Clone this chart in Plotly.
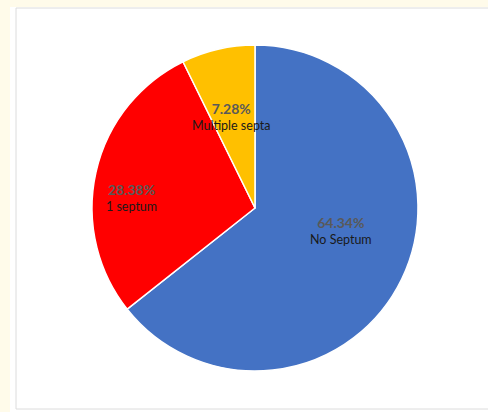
import plotly.graph_objects as go

# Data
categories = ["No Septum", "1 septum", "Multiple septa"]
percent_values = [64.34, 28.38, 7.28]
slice_colors = ["#4472C4", "#FF0000", "#FFC000"]

W, H = 488, 412

fig = go.Figure()
fig.add_trace(go.Pie(
    labels=categories,
    values=percent_values,
    sort=False,
    direction="clockwise",
    rotation=0,
    marker=dict(colors=slice_colors, line=dict(color="white", width=1.5)),
    textinfo="none",
    hoverinfo="label+percent",
    showlegend=False,
    domain=dict(x=[92 / W, 418 / W], y=[1 - 371 / H, 1 - 45 / H]),
))

# label placement (pixel positions of the centre of each two-line label)
label_px = [(341, 230), (131, 197), (231, 116)]
annotations = []
for cat, val, (px, py) in zip(categories, percent_values, label_px):
    annotations.append(dict(
        x=px / W, y=1 - py / H, xref="paper", yref="paper",
        text=(f"<span style='color:#595959;font-size:14px'><b>{val:.2f}%</b></span>"
              f"<br>{cat}"),
        showarrow=False,
        font=dict(family="Lato, Open Sans, sans-serif", size=12.5, color="#1a1a1a"),
        xanchor="center", yanchor="middle", align="center",
    ))

shapes = [
    # white panel over cream page
    dict(type="rect", xref="paper", yref="paper", x0=10 / W, x1=1.01, y0=-0.01, y1=1 - 7 / H,
         fillcolor="white", line=dict(width=0), layer="below"),
    # thin grey inner border
    dict(type="rect", xref="paper", yref="paper", x0=16 / W, x1=1.01, y0=1 - 409 / H, y1=1 - 8 / H,
         fillcolor="rgba(0,0,0,0)", line=dict(color="#dcdcdc", width=1), layer="below"),
]

fig.update_layout(
    width=W, height=H,
    margin=dict(l=0, r=0, t=0, b=0),
    paper_bgcolor="#FFFBEA",
    plot_bgcolor="white",
    annotations=annotations,
    shapes=shapes,
)

fig.write_html(
    "out.html",
    config={"displayModeBar": False},
    post_script="document.body.style.margin='0';document.body.style.overflow='hidden';",
)
